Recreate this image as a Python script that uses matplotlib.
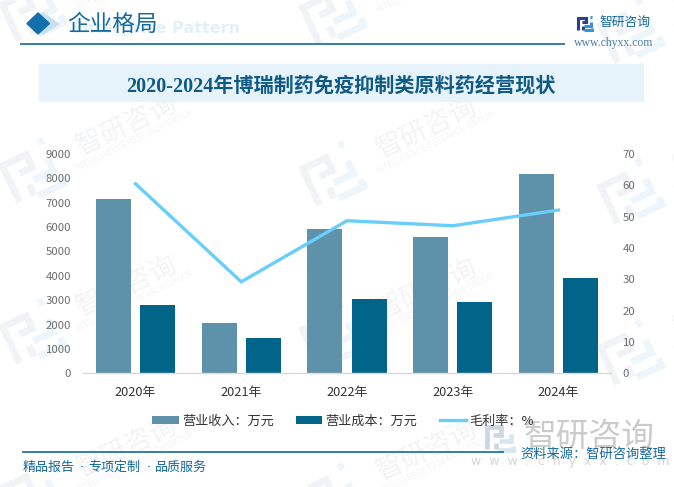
import numpy as np
import matplotlib
matplotlib.use('Agg')
import matplotlib.pyplot as plt
from matplotlib.patches import Polygon, Rectangle

plt.rcParams['font.family'] = ['Noto Sans CJK SC', 'DejaVu Sans']

years = ['2020年', '2021年', '2022年', '2023年', '2024年']
revenue = [7153, 2064, 5922, 5594, 8183]
cost = [2803, 1449, 3049, 2926, 3910]
margin = [60.5, 29.2, 48.7, 47.1, 52.1]
left_ticks = list(range(0, 10000, 1000))
right_ticks = list(range(0, 80, 10))

W, H = 674, 487
fig = plt.figure(figsize=(W / 100, H / 100), dpi=100, facecolor='white')

bg = fig.add_axes([0, 0, 1, 1], zorder=0)
bg.set_xlim(0, W); bg.set_ylim(H, 0); bg.axis('off')

def logo(cx, cy, s, ang, c1, c2, lw, z=1):
    a = np.deg2rad(ang)
    def T(pts):
        p = np.array(pts, float) * s
        return cx + p[:, 0] * np.cos(a) + p[:, 1] * np.sin(a), cy - p[:, 0] * np.sin(a) + p[:, 1] * np.cos(a)
    for pts, c in [([(-24, 22), (-24, -18), (2, -18), (2, -4), (-12, -4)], c1),
                   ([(-8, 22), (-8, 10)], c1),
                   ([(20, -6), (20, 8), (-2, 8)], c2),
                   ([(-4, 24), (24, 24), (24, 16)], c2),
                   ([(18, -24), (24, -24)], c2)]:
        xs, ys = T(pts)
        bg.plot(xs, ys, color=c, lw=lw, solid_capstyle='butt', solid_joinstyle='miter', zorder=z)

def watermark(lx, ly):
    logo(lx, ly, 1.0, 25, '#f1f3f7', '#eef6fb', 5)
    bg.text(lx + 95, ly - 47, '智研咨询', fontsize=19.5, color='#f3f4f6', rotation=25,
            rotation_mode='anchor', ha='center', va='center', zorder=1)
    bg.text(lx + 103, ly - 32, 'INTELLIGENCE RESEARCH GROUP', fontsize=5.6, color='#f4f5f7', rotation=26,
            rotation_mode='anchor', ha='center', va='center', zorder=1, family='DejaVu Sans')

for lx, rows in [(32, (11, 172, 333, 494)), (332, (14, 175, 336, 497)), (630, (32, 193, 354))]:
    for ly in rows:
        watermark(lx, ly)

# bottom-right stamp
logo(500, 437, 0.55, 0, '#cdd6e6', '#d6e6f2', 3.4, z=2)
bg.text(589.5, 437, '智研咨询', fontsize=23.6, color='#cbcbcb', ha='center', va='center', zorder=2)
bg.text(570, 461, 'w  w  w  .  c  h  y  x  x  .  c  o  m', fontsize=9, color='#d6d6d6', ha='center', va='center',
        zorder=2, family='DejaVu Sans')

# header
bg.add_patch(Polygon([(43, 13), (59, 24), (43, 34), (30, 24)], closed=True, color='#c9e0ef', zorder=3))
bg.add_patch(Polygon([(38, 13), (49.5, 23.5), (38, 34), (27, 23.5)], closed=True, color='#1470ac', zorder=4))
bg.text(67, 24, '企业格局', fontsize=16.3, color='#14699f', ha='left', va='center', zorder=5)
bg.text(72, 28, 'Enterprise Pattern', fontsize=11.5, fontweight='bold', color='#e4f0f8', ha='left', va='center',
        zorder=3, family='DejaVu Sans')
bg.plot([20, 565], [44, 44], color='#14689f', lw=1.2, zorder=3, solid_capstyle='butt')

# logo, top right
logo(585, 23.5, 0.29, 0, '#2b3f8f', '#2f97d5', 2.2, z=3)
bg.text(600, 23, '智研咨询', fontsize=9.2, color='#14689f', ha='left', va='center', zorder=3)
bg.text(653, 43, 'www.chyxx.com', fontsize=8.5, color='#4d7ea8', ha='right', va='center', zorder=3,
        family='Liberation Serif')

# title band
bg.add_patch(Rectangle((39, 64), 604, 37, color='#e6f3fb', zorder=2))
bg.text(341, 86.5, '2020-2024年博瑞制药免疫抑制类原料药经营现状', fontsize=14.5, fontweight='bold', color='#0f5a85',
        ha='center', va='center', zorder=3, family=['Liberation Serif', 'Noto Sans CJK SC'])

# footer
bg.plot([21.5, 503.5], [452, 452], color='#14689f', lw=1.2, zorder=3, solid_capstyle='butt')
for tx, t in [(23, '精品报告'), (88, '专项定制'), (155, '品质服务')]:
    bg.text(tx, 467.5, t, fontsize=9.4, color='#14689f', ha='left', va='center', zorder=3)
for tx in (81.5, 148.5):
    bg.text(tx, 467.5, '·', fontsize=9.4, color='#14689f', ha='center', va='center', zorder=3, family='DejaVu Sans')
bg.text(666, 453.5, '资料来源：智研咨询整理', fontsize=9.55, color='#14689f', ha='right', va='center', zorder=3)

# chart
ax_l, ax_r, ax_t, ax_b = 82.6, 611.4, 154, 373.3
ax = fig.add_axes([ax_l / W, 1 - ax_b / H, (ax_r - ax_l) / W, (ax_b - ax_t) / H], zorder=2)
ax.patch.set_alpha(0)
x = np.arange(len(years))
bw = 35 / 105.75
off = 22 / 105.75
b1 = ax.bar(x - off, revenue, bw, color='#5e92aa')
b2 = ax.bar(x + off, cost, bw, color='#016489')
ax.set_xlim(-0.5, 4.5)
ax.set_ylim(0, 9000)
ax.set_yticks(left_ticks)
ax.set_xticks(x, years)
ax.tick_params(axis='y', length=0, labelsize=8.2, labelcolor='#6e6e6e', pad=8.2)
ax.tick_params(axis='x', length=0, labelsize=9.2, labelcolor='#333333', pad=9)
for s in ['top', 'left', 'right']:
    ax.spines[s].set_visible(False)
ax.spines['bottom'].set_color('#d9d9d9')
ax.spines['bottom'].set_linewidth(1)

ax2 = ax.twinx()
ax2.patch.set_alpha(0)
l1, = ax2.plot(x, margin, color='#69cefa', lw=2.4, solid_joinstyle='miter')
ax2.set_ylim(0, 70)
ax2.set_yticks(right_ticks)
ax2.tick_params(axis='y', length=0, labelsize=8.2, labelcolor='#6e6e6e', pad=8.2)
for s in ax2.spines.values():
    s.set_visible(False)

fig.legend([b1, b2, l1], ['营业收入：万元', '营业成本：万元', '毛利率：%'], loc='center', ncol=3,
           bbox_to_anchor=(343 / W, 1 - 421 / H), frameon=False, fontsize=9.45, labelcolor='#333333',
           handlelength=2.0, handleheight=0.65, columnspacing=1.7, handletextpad=0.25)

fig.savefig('out.png', dpi=100)
